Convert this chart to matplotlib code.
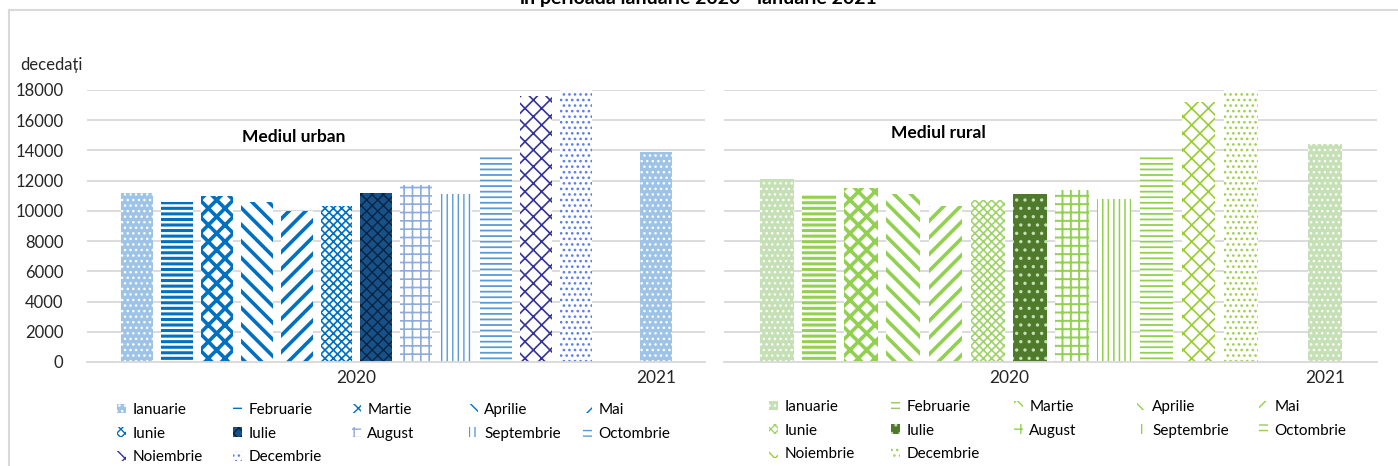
import matplotlib
matplotlib.use('Agg')
import matplotlib.pyplot as plt
from matplotlib.patches import Patch
from matplotlib.lines import Line2D

plt.rcParams['font.family'] = ['Lato', 'DejaVu Sans']

# data (deaths per month)
months = ['Ianuarie', 'Februarie', 'Martie', 'Aprilie', 'Mai', 'Iunie', 'Iulie',
          'August', 'Septembrie', 'Octombrie', 'Noiembrie', 'Decembrie']
years = ['2020', '2021']
urban_2020 = [11200, 10600, 11000, 10600, 10000, 10300, 11200, 11700, 11100, 13700, 17600, 18100]
urban_2021 = [13900]
rural_2020 = [12100, 11100, 11500, 11100, 10300, 10700, 11100, 11400, 10800, 13600, 17200, 18100]
rural_2021 = [14400]
y_ticks = [0, 2000, 4000, 6000, 8000, 10000, 12000, 14000, 16000, 18000]

# fill colour, hatch, hatch colour, hatch linewidth for each month
urban_styles = [
    ('#9dc3e6', '...', 'white', 1.0),
    ('white', '---', '#0070c0', 2.2),
    ('white', 'xx', '#0070c0', 2.6),
    ('white', '\\\\', '#0070c0', 2.6),
    ('white', '//', '#0070c0', 2.6),
    ('white', 'xxxx', '#0070c0', 1.2),
    ('#17518a', 'xxx', '#0b2440', 1.0),
    ('white', '++', '#8faadc', 1.2),
    ('white', '|||', '#5b9bd5', 1.0),
    ('white', '---', '#5b9bd5', 1.3),
    ('white', 'xx', '#33339a', 1.2),
    ('white', '...', '#5b7ff0', 1.1),
]
rural_styles = [
    ('#c5e0b4', '...', 'white', 1.0),
    ('white', '---', '#92d050', 2.2),
    ('white', 'xx', '#92d050', 2.6),
    ('white', '\\\\', '#92d050', 2.6),
    ('white', '//', '#92d050', 2.6),
    ('white', 'xxxx', '#9fd36a', 1.2),
    ('#4f7a2b', '..', '#c5e0b4', 1.2),
    ('white', '++', '#92d050', 1.4),
    ('white', '|||', '#92d050', 1.1),
    ('white', '---', '#92d050', 1.3),
    ('white', 'xx', '#9acd32', 1.2),
    ('white', '...', '#a0d050', 1.1),
]

fig = plt.figure(figsize=(13.98, 4.66), dpi=100)

# chart frame (top and left edges visible in the crop)
fig.add_artist(Line2D([9/1398, 9/1398], [0, 1 - 10/466], transform=fig.transFigure, color='#d9d9d9', lw=1.5))
fig.add_artist(Line2D([9/1398, 1], [1 - 10/466, 1 - 10/466], transform=fig.transFigure, color='#d9d9d9', lw=1.5))

fig.text(699/1398, 1 - 4/466, 'în perioada ianuarie 2020 - ianuarie 2021', ha='center', va='baseline',
         fontsize=14, fontweight='bold')
fig.text(20/1398, 1 - 65/466, 'decedați', ha='left', va='center', fontsize=12, color='#262626')

ax1 = fig.add_axes([87/1398, 1 - 362/466, 618/1398, 272/466])
ax2 = fig.add_axes([724/1398, 1 - 362/466, 653/1398, 272/466])


def draw_panel(ax, vals_2020, vals_2021, styles, title, tx, ty, show_y):
    x = list(range(len(vals_2020)))
    for i, v in enumerate(vals_2020):
        fc, h, hc, lw = styles[i]
        with plt.rc_context({'hatch.linewidth': lw}):
            ax.bar(x[i], v, width=0.8, color=fc, edgecolor=hc, hatch=h, linewidth=0)
    fc, h, hc, lw = styles[0]
    with plt.rc_context({'hatch.linewidth': lw}):
        ax.bar(13, vals_2021[0], width=0.8, color=fc, edgecolor=hc, hatch=h, linewidth=0)

    ax.set_xlim(-1.25, 14.23)
    ax.set_ylim(0, 18000)
    ax.set_yticks(y_ticks)
    ax.set_xticks([5.5, 13])
    ax.set_xticklabels(years)
    ax.grid(axis='y', color='#d9d9d9', lw=1.3)
    ax.set_axisbelow(True)
    for s in ['top', 'right', 'left']:
        ax.spines[s].set_visible(False)
    ax.spines['bottom'].set_color('#d9d9d9')
    ax.spines['bottom'].set_linewidth(1.3)
    ax.tick_params(axis='both', length=0, labelsize=12, colors='#262626')
    ax.tick_params(axis='x', pad=6, labelsize=12.5)
    ax.tick_params(axis='y', pad=17)
    if not show_y:
        ax.set_yticklabels([])
    ax.text(tx, ty, title, transform=ax.transAxes, ha='center', va='center',
            fontsize=12.5, fontweight='bold')


draw_panel(ax1, urban_2020, urban_2021, urban_styles, 'Mediul urban', 0.335, 0.827, True)
draw_panel(ax2, rural_2020, rural_2021, rural_styles, 'Mediul rural', 0.329, 0.842, False)


def draw_legend(styles, text_x, row_top):
    # Excel fills the legend row by row, 5 entries per row
    for col in range(5):
        idx = list(range(col, len(months), 5))
        handles = []
        for i in idx:
            fc, h, hc, lw = styles[i]
            with plt.rc_context({'hatch.linewidth': min(lw, 1.2)}):
                handles.append(Patch(facecolor=fc, edgecolor=hc, hatch=h, linewidth=0))
        fig.legend(handles, [months[i] for i in idx], loc='upper left',
                   bbox_to_anchor=((text_x[col] - 14) / 1398, 1 - row_top / 466),
                   frameon=False, fontsize=11, handlelength=0.6, handleheight=0.6,
                   handletextpad=0.4, labelspacing=0.63, borderpad=0, borderaxespad=0)


draw_legend(urban_styles, [131, 247, 366, 483, 597], 403)
draw_legend(rural_styles, [783, 905, 1028, 1151, 1273], 400)

fig.savefig('out.png', dpi=100)
